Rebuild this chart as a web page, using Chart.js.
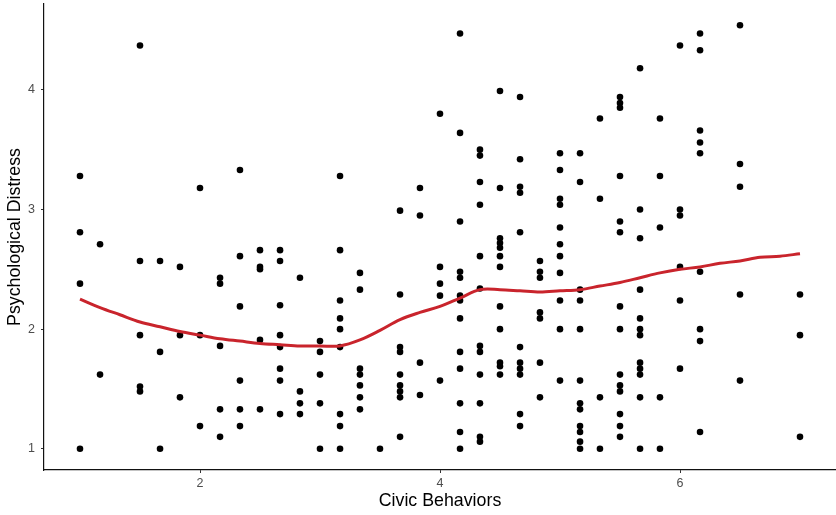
<!DOCTYPE html>
<html>
<head>
<meta charset="utf-8">
<title>Psychological Distress vs Civic Behaviors</title>
<script src="https://cdn.jsdelivr.net/npm/chart.js@4.4.4/dist/chart.umd.min.js"></script>
<style>
  html, body { margin: 0; padding: 0; background: #fff; }
  #wrap { width: 836px; height: 515px; }
</style>
</head>
<body>
<div id="wrap"><canvas id="grafico" width="836" height="515"></canvas></div>
<script>
/* ── Dados: níveis de comportamento cívico (eixo x) ── */
const civicLevels = [1, 1.167, 1.5, 1.667, 1.833, 2, 2.167, 2.333, 2.5, 2.667, 2.833, 3,
  3.167, 3.333, 3.5, 3.667, 3.833, 4, 4.167, 4.333, 4.5, 4.667, 4.833, 5, 5.167,
  5.333, 5.5, 5.667, 5.833, 6, 6.167, 6.5, 7];

/* ── Sofrimento psicológico observado em cada nível (mesma ordem) ── */
const distressByLevel = [
  [3.28, 2.81, 2.38, 1.00],
  [2.71, 1.62],
  [4.37, 2.57, 1.95, 1.52, 1.48],
  [2.57, 1.81, 1.00],
  [2.52, 1.95, 1.43],
  [3.18, 1.95, 1.19],
  [2.43, 2.38, 1.86, 1.33, 1.10],
  [3.33, 2.61, 2.19, 1.57, 1.33, 1.19],
  [2.66, 2.52, 2.50, 1.91, 1.33],
  [2.66, 2.57, 2.20, 1.95, 1.85, 1.67, 1.57, 1.29],
  [2.43, 1.48, 1.38, 1.29],
  [1.90, 1.81, 1.62, 1.38, 1.00],
  [3.28, 2.66, 2.24, 2.09, 2.00, 1.85, 1.29, 1.19, 1.00],
  [2.47, 2.33, 1.67, 1.62, 1.53, 1.43, 1.33],
  [1.00],
  [2.99, 2.29, 1.85, 1.81, 1.62, 1.53, 1.48, 1.43, 1.10],
  [3.18, 2.95, 1.72, 1.45],
  [3.80, 2.52, 2.38, 2.28, 1.57],
  [4.47, 3.64, 2.90, 2.48, 2.43, 2.28, 2.24, 2.09, 1.81, 1.67, 1.38, 1.14, 1.00],
  [3.50, 3.45, 3.23, 3.04, 2.61, 2.34, 1.86, 1.81, 1.62, 1.38, 1.10, 1.06],
  [3.99, 3.18, 2.76, 2.72, 2.68, 2.61, 2.52, 2.19, 2.00, 1.72, 1.69, 1.62],
  [3.94, 3.42, 3.19, 3.14, 2.81, 1.85, 1.72, 1.67, 1.62, 1.29, 1.19],
  [2.57, 2.48, 2.43, 2.14, 2.09, 1.72, 1.43],
  [3.47, 3.33, 3.09, 3.04, 2.85, 2.71, 2.61, 2.47, 2.24, 2.00, 1.57],
  [3.47, 3.23, 2.33, 2.24, 2.00, 1.57, 1.38, 1.33, 1.19, 1.14, 1.06, 1.00],
  [3.76, 3.09, 1.43, 1.00],
  [3.94, 3.89, 3.85, 3.28, 2.90, 2.81, 2.19, 2.00, 1.62, 1.53, 1.48, 1.29, 1.19, 1.10],
  [4.18, 3.00, 2.76, 2.33, 2.09, 2.00, 1.95, 1.72, 1.67, 1.62, 1.43, 1.00],
  [3.76, 3.28, 2.85, 1.43, 1.00],
  [4.37, 3.00, 2.95, 2.52, 2.24, 1.67],
  [4.47, 4.33, 3.66, 3.56, 3.47, 2.48, 2.00, 1.90, 1.14],
  [4.54, 3.38, 3.19, 2.29, 1.57],
  [2.29, 1.95, 1.10]
];

/* ── Curva suavizada (loess) ── */
const smoothX = [1, 1.167, 1.333, 1.5, 1.667, 1.833, 2, 2.167, 2.333, 2.5, 2.667, 2.833,
  3, 3.167, 3.333, 3.5, 3.667, 3.833, 4, 4.167, 4.333, 4.5, 4.667, 4.833, 5, 5.167,
  5.333, 5.5, 5.667, 5.833, 6, 6.167, 6.333, 6.5, 6.667, 6.833, 7];
const smoothY = [2.25, 2.18, 2.12, 2.06, 2.02, 1.98, 1.95, 1.92, 1.90, 1.88, 1.87, 1.86,
  1.86, 1.86, 1.91, 1.99, 2.08, 2.14, 2.19, 2.26, 2.33, 2.33, 2.32, 2.31, 2.32, 2.33,
  2.36, 2.39, 2.43, 2.47, 2.50, 2.52, 2.55, 2.57, 2.60, 2.61, 2.63];

/* ── Marcas dos eixos ── */
const xTicks = [2, 4, 6];
const yTicks = [1, 2, 3, 4];

/* ── Monta os pares {x, y} para o Chart.js ── */
const pontos = [];
civicLevels.forEach(function (nivel, i) {
  distressByLevel[i].forEach(function (v) { pontos.push({ x: nivel, y: v }); });
});
const curva = smoothX.map(function (x, i) { return { x: x, y: smoothY[i] }; });

const FONTE = "'Liberation Sans', Arial, sans-serif";

/* zera o recuo automático que o Chart.js reserva para os rótulos das pontas */
function semRecuo(s) {
  s.paddingTop = 0; s.paddingBottom = 0; s.paddingLeft = 0; s.paddingRight = 0;
}

new Chart(document.getElementById('grafico'), {
  type: 'scatter',
  data: {
    datasets: [
      {
        type: 'line',
        data: curva,
        borderColor: '#c9242c',
        borderWidth: 3,
        pointRadius: 0,
        tension: 0.35,
        fill: false,
        order: 0
      },
      {
        data: pontos,
        backgroundColor: '#000',
        borderWidth: 0,
        pointRadius: 3.3,
        order: 1
      }
    ]
  },
  options: {
    responsive: false,
    devicePixelRatio: 1,
    animation: false,
    layout: { autoPadding: false, padding: { top: 4, right: 0, left: 0, bottom: 0 } },
    plugins: { legend: { display: false }, tooltip: { enabled: false } },
    scales: {
      x: {
        type: 'linear',
        min: 0.7,
        max: 7.3,
        afterBuildTicks: function (s) { s.ticks = xTicks.map(function (v) { return { value: v }; }); },
        afterFit: function (s) { s.height = 45; semRecuo(s); },
        grid: { drawOnChartArea: false, drawTicks: true, tickLength: 3, tickColor: '#333', tickWidth: 1 },
        border: { display: true, color: '#111', width: 1.2 },
        ticks: { color: '#4d4d4d', padding: 3.5, font: { family: FONTE, size: 12.5 }, maxRotation: 0 },
        title: { display: true, text: 'Civic Behaviors', color: '#000',
                 font: { family: FONTE, size: 17.8 }, padding: { top: 0, bottom: 3 } }
      },
      y: {
        type: 'linear',
        min: 0.823,
        max: 4.717,
        afterBuildTicks: function (s) { s.ticks = yTicks.map(function (v) { return { value: v }; }); },
        afterFit: function (s) { s.width = 44; semRecuo(s); },
        grid: { drawOnChartArea: false, drawTicks: true, tickLength: 3, tickColor: '#333', tickWidth: 1 },
        border: { display: true, color: '#111', width: 1.2 },
        ticks: { color: '#4d4d4d', padding: 6, font: { family: FONTE, size: 12.5 } },
        title: { display: true, text: 'Psychological Distress', color: '#000',
                 font: { family: FONTE, size: 17.8 }, padding: { top: 4, bottom: 0 } }
      }
    }
  }
});
</script>
</body>
</html>
